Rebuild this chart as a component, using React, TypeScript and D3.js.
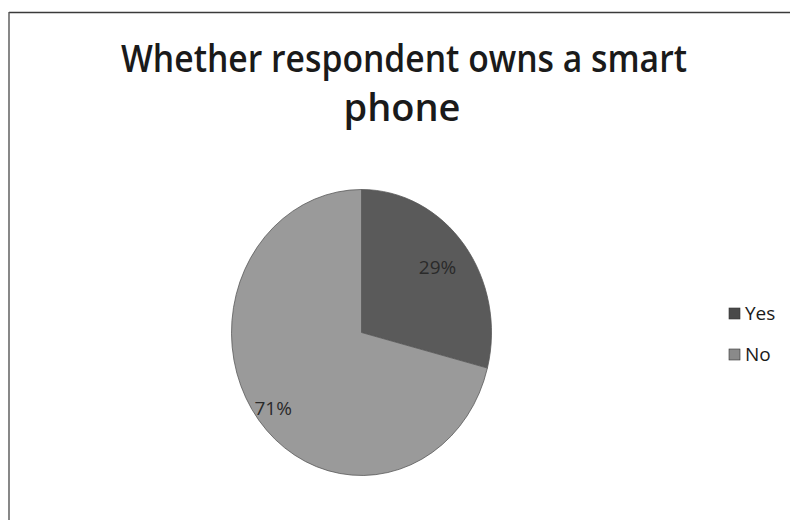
import React from "react";
import * as d3 from "d3";

const title = ["Whether respondent owns a smart", "phone"];
const categories = ["Yes", "No"];
const values = [29, 71];
const labels = ["29%", "71%"];

const W = 790;
const H = 520;

export default function App() {
  const cx = 361.5;
  const cy = 332.5;
  const ry = 143;
  const rx = 130;
  const sx = rx / ry;

  const colors = ["#5a5a5a", "#9a9a9a"];
  const legendColors = ["#4a4a4a", "#8a8a8a"];
  const labelR = [0.74, 0.86];

  const pie = d3.pie<number>().sort(null).value((d) => d);
  const arcs = pie(values);
  const arc = d3.arc<d3.PieArcDatum<number>>().innerRadius(0).outerRadius(ry);

  const legendY = d3.scalePoint<string>().domain(categories).range([313, 354]);

  return (
    <svg width={W} height={H} style={{ position: "absolute", left: 0, top: 0, background: "#fff" }}>
      <rect x={0} y={0} width={W} height={H} fill="#fff" />
      <line x1={9} y1={12.5} x2={W} y2={12.5} stroke="#3a3a3a" strokeWidth={1.6} />
      <line x1={9} y1={12} x2={9} y2={H} stroke="#555" strokeWidth={1.4} />

      <g fontFamily="'Open Sans', 'Noto Sans', sans-serif" fill="#1a1a1a" textAnchor="middle" fontWeight={600}>
        <text x={404} y={72} fontSize={38} textLength={566} lengthAdjust="spacingAndGlyphs">{title[0]}</text>
        <text x={402} y={121} fontSize={38}>{title[1]}</text>
      </g>

      <g transform={`translate(${cx},${cy}) scale(${sx},1)`}>
        {arcs.map((a, i) => (
          <path key={categories[i]} d={arc(a) || ""} fill={colors[i]} stroke="#555" strokeWidth={0.8} />
        ))}
      </g>

      {arcs.map((a, i) => {
        const mid = (a.startAngle + a.endAngle) / 2;
        const x = cx + Math.sin(mid) * rx * labelR[i];
        const y = cy - Math.cos(mid) * ry * labelR[i];
        return (
          <text key={labels[i]} x={x} y={y} dy="0.35em" textAnchor="middle"
            fontFamily="'Open Sans', sans-serif" fontSize={19} fill="#2a2a2a">
            {labels[i]}
          </text>
        );
      })}

      {categories.map((c, i) => (
        <g key={c} transform={`translate(729,${legendY(c)})`}>
          <rect x={0} y={-5} width={11} height={11} fill={legendColors[i]} stroke="#333" strokeWidth={0.6} />
          <text x={16} y={0} dy="0.36em" fontFamily="'Open Sans', sans-serif" fontSize={19} fill="#1a1a1a">{c}</text>
        </g>
      ))}
    </svg>
  );
}
